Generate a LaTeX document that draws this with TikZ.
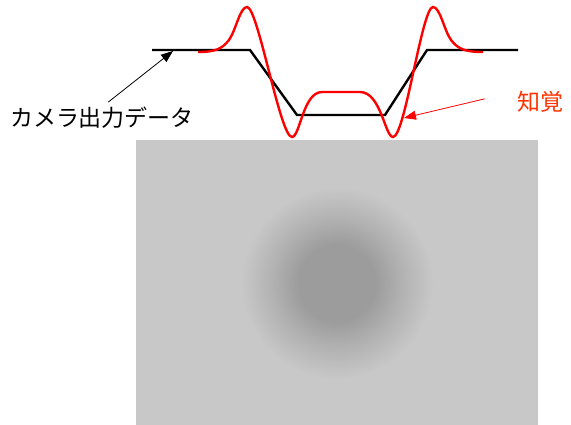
\documentclass[tikz,border=0pt]{standalone}
\usepackage{fontspec}
\newfontfamily\jpfont{Noto Sans CJK JP}
\usetikzlibrary{arrows.meta}
\definecolor{bggray}{HTML}{C8C8C8}
\definecolor{blobgray}{HTML}{9C9C9C}
\definecolor{percred}{HTML}{FF0000}
\definecolor{perctext}{HTML}{FF3300}
\pgfdeclareradialshading{blob}{\pgfpoint{0bp}{0bp}}{%
  color(0bp)=(blobgray); color(10bp)=(blobgray);
  color(17bp)=(blobgray!50!bggray); color(25bp)=(bggray); color(50bp)=(bggray)}

\begin{document}
\begin{tikzpicture}[x=1pt, y=-1pt,
    lbl/.style={font=\jpfont\fontsize{23}{27}\selectfont, inner sep=0pt},
    datline/.style={line width=2.4pt, black},
    percline/.style={line width=2.4pt, percred},
    ptr/.style={line width=0.8pt, -{Triangle[length=12pt,width=9pt]}},
  ]
  \useasboundingbox (0,0) rectangle (571,425);
  % stimulus patch
  \fill[bggray] (136,140) rectangle (538,425);
  \shade[shading=blob] (337,283) circle (96pt);
  % camera output profile
  \draw[datline] (152,50) -- (250,50) -- (297,115) -- (385,115) -- (427,50) -- (518,50);
  % perceived profile
  \draw[percline] (198,52) .. controls (215,52) and (222,49) .. (229,40)
    .. controls (236,30) and (240,7) .. (247,7)
    .. controls (258,7) and (280,137) .. (292,137)
    .. controls (300,137) and (303,92) .. (322,92)
    -- (360,92)
    .. controls (381,92) and (385,137) .. (393,137)
    .. controls (405,137) and (422,7) .. (433,7)
    .. controls (440,7) and (444,30) .. (451,40)
    .. controls (458,49) and (465,52) .. (483,52);

  \node[lbl] (camlbl) at (102,118) {カメラ出力データ};
  \node[lbl, text=perctext] (perlbl) at (540,102) {知覚};

  \coordinate (camtip) at (173,51);
  \coordinate (pertip) at (404,118);
  \draw[ptr, black, shorten <=8pt] (camlbl.north) -- (camtip);
  \draw[ptr, percred, shorten <=33pt] (perlbl.north west) -- (pertip);
\end{tikzpicture}
\end{document}
